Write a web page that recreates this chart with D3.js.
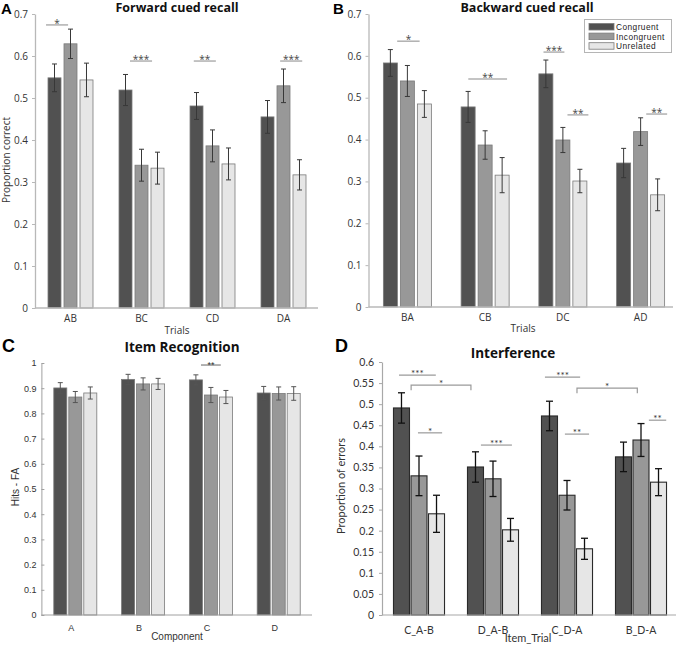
<!DOCTYPE html>
<html><head><meta charset="utf-8">
<script src="https://cdn.jsdelivr.net/npm/d3@7"></script>
<style>body{margin:0;background:#fff} svg{display:block}</style>
</head><body>
<svg id="c" width="680" height="645"></svg>
<script>
// ---------------- DATA ----------------
const seriesNames = ["Congruent", "Incongruent", "Unrelated"];

// A: Forward cued recall
const fwdTrials = ["AB", "BC", "CD", "DA"];
const fwdMeans = [[0.548, 0.519, 0.481, 0.455], [0.629, 0.340, 0.386, 0.529], [0.543, 0.333, 0.343, 0.317]];
const fwdErrs  = [[0.033, 0.037, 0.032, 0.039], [0.035, 0.038, 0.038, 0.040], [0.040, 0.038, 0.038, 0.036]];
const fwdTicks = [0, 0.1, 0.2, 0.3, 0.4, 0.5, 0.6, 0.7];
const fwdSig = [
  {g1: 0, f1: -0.01, g2: 0, f2: 0.45, y: 0.674, label: "*"},
  {g1: 1, f1: 0.26, g2: 1, f2: 0.72, y: 0.588, label: "***"},
  {g1: 2, f1: 0.11, g2: 2, f2: 0.57, y: 0.588, label: "**"},
  {g1: 3, f1: 0.43, g2: 3, f2: 0.89, y: 0.588, label: "***"}
];

// B: Backward cued recall
const bwdTrials = ["BA", "CB", "DC", "AD"];
const bwdMeans = [[0.583, 0.478, 0.557, 0.344], [0.540, 0.387, 0.399, 0.419], [0.485, 0.315, 0.301, 0.268]];
const bwdErrs  = [[0.032, 0.037, 0.033, 0.035], [0.037, 0.034, 0.030, 0.033], [0.032, 0.042, 0.028, 0.038]];
const bwdTicks = [0, 0.1, 0.2, 0.3, 0.4, 0.5, 0.6, 0.7];
const bwdSig = [
  {g1: 0, f1: 0.30, g2: 0, f2: 0.74, y: 0.635, label: "*"},
  {g1: 1, f1: 0.17, g2: 1, f2: 0.93, y: 0.545, label: "**"},
  {g1: 2, f1: 0.12, g2: 2, f2: 0.53, y: 0.609, label: "***"},
  {g1: 2, f1: 0.59, g2: 2, f2: 1.00, y: 0.459, label: "**"},
  {g1: 3, f1: 0.61, g2: 3, f2: 1.02, y: 0.461, label: "**"}
];

// C: Item Recognition
const recComponents = ["A", "B", "C", "D"];
const recMeans = [[0.901, 0.935, 0.933, 0.881], [0.865, 0.917, 0.873, 0.879], [0.881, 0.917, 0.865, 0.879]];
const recErrs  = [[0.021, 0.020, 0.020, 0.026], [0.022, 0.024, 0.030, 0.026], [0.024, 0.022, 0.026, 0.027]];
const recTicks = [0, 0.1, 0.2, 0.3, 0.4, 0.5, 0.6, 0.7, 0.8, 0.9, 1];
const recSig = [
  {g1: 2, f1: 0.28, g2: 2, f2: 0.72, y: 0.992, label: "**"}
];

// D: Interference
const intItems = ["C_A-B", "D_A-B", "C_D-A", "B_D-A"];
const intMeans = [[0.491, 0.351, 0.472, 0.375], [0.330, 0.323, 0.284, 0.415], [0.240, 0.202, 0.157, 0.315]];
const intErrs  = [[0.036, 0.036, 0.035, 0.035], [0.047, 0.042, 0.035, 0.039], [0.044, 0.027, 0.025, 0.032]];
const intTicks = [0, 0.05, 0.1, 0.15, 0.2, 0.25, 0.3, 0.35, 0.4, 0.45, 0.5, 0.55, 0.6];
const intSig = [
  {g1: 0, f1: 0.12, g2: 0, f2: 0.82, y: 0.569, label: "***"},
  {g1: 0, f1: 0.35, g2: 1, f2: 0.08, y: 0.545, label: "*", bracket: true},
  {g1: 0, f1: 0.48, g2: 0, f2: 0.94, y: 0.432, label: "*"},
  {g1: 1, f1: 0.27, g2: 1, f2: 0.86, y: 0.403, label: "***"},
  {g1: 2, f1: 0.08, g2: 2, f2: 0.75, y: 0.564, label: "***"},
  {g1: 2, f1: 0.69, g2: 3, f2: 0.43, y: 0.538, label: "*", bracket: true},
  {g1: 2, f1: 0.46, g2: 2, f2: 0.92, y: 0.429, label: "**"},
  {g1: 3, f1: 0.65, g2: 3, f2: 0.98, y: 0.462, label: "**"}
];

// ---------------- DRAWING ----------------
const svg = d3.select("#c");
const fills = {Congruent: "#515151", Incongruent: "#989898", Unrelated: "#e6e6e6"};

function drawPanel(o) {
  const g = svg.append("g").style("font-family", o.font);
  const x = d3.scaleBand().domain(o.cats).range(o.xr).paddingInner(o.pi).paddingOuter(o.pi / 2);
  const xi = d3.scaleBand().domain(seriesNames).range([0, x.bandwidth()]).paddingInner(o.pii).paddingOuter(o.pii / 2);
  const y = d3.scaleLinear().domain([0, o.ymax]).range(o.yr);
  const axisX = o.xr[0];

  // y axis
  const ya = g.append("g").attr("transform", `translate(${axisX},0)`)
    .call(d3.axisLeft(y).tickValues(o.ticks).tickFormat(d3.format("~g"))
      .tickSize(o.tickIn ? -3 : 3).tickSizeOuter(0).tickPadding(o.tickPad));
  ya.select(".domain").attr("stroke", o.axisColor).attr("stroke-width", o.axisW);
  ya.selectAll(".tick line").attr("stroke", o.axisColor);
  ya.selectAll(".tick text").attr("fill", o.textColor).style("font-size", o.tickFont + "px").style("font-family", o.font);

  // bars
  o.means.forEach((arr, si) => {
    const s = seriesNames[si];
    g.append("g").selectAll("rect").data(arr).join("rect")
      .attr("x", (d, i) => x(o.cats[i]) + xi(s))
      .attr("y", d => y(d))
      .attr("width", xi.bandwidth())
      .attr("height", d => y(0) - y(d))
      .attr("fill", fills[s])
      .attr("stroke", o.barStroke).attr("stroke-width", o.barStrokeW);
  });

  // x axis line
  g.append("line").attr("x1", axisX).attr("x2", o.xEnd).attr("y1", y(0)).attr("y2", y(0))
    .attr("stroke", o.axisColor).attr("stroke-width", o.axisW);
  const xa = g.append("g").attr("transform", `translate(0,${y(0)})`)
    .call(d3.axisBottom(x).tickSize(0).tickSizeOuter(0).tickPadding(o.catPad));
  xa.select(".domain").remove();
  xa.selectAll(".tick text").attr("fill", o.textColor).attr("dx", o.catDx || 0)
    .style("font-size", o.catFont + "px").style("font-family", o.font);

  // error bars
  o.means.forEach((arr, si) => {
    const s = seriesNames[si];
    const eg = g.append("g").attr("stroke", o.errColor).attr("stroke-width", o.errW).attr("fill", "none");
    arr.forEach((m, i) => {
      const e = o.errs[si][i];
      const cx = x(o.cats[i]) + xi(s) + xi.bandwidth() / 2;
      const y1 = y(m + e), y2 = y(m - e);
      eg.append("line").attr("x1", cx).attr("x2", cx).attr("y1", y1).attr("y2", y2);
      eg.append("line").attr("x1", cx - o.cap).attr("x2", cx + o.cap).attr("y1", y1).attr("y2", y1);
      eg.append("line").attr("x1", cx - o.cap).attr("x2", cx + o.cap).attr("y1", y2).attr("y2", y2);
    });
  });

  // significance marks
  o.sig.forEach(s => {
    const xa1 = x(o.cats[s.g1]) + s.f1 * x.bandwidth();
    const xa2 = x(o.cats[s.g2]) + s.f2 * x.bandwidth();
    const yy = y(s.y);
    if (s.bracket) {
      g.append("path").attr("d", `M${xa1},${yy + o.bracketLeg}V${yy}H${xa2}V${yy + o.bracketLeg}`)
        .attr("fill", "none").attr("stroke", o.sigColor).attr("stroke-width", o.sigW);
    } else {
      g.append("line").attr("x1", xa1).attr("x2", xa2).attr("y1", yy).attr("y2", yy)
        .attr("stroke", o.sigColor).attr("stroke-width", o.sigW);
    }
    g.append("text").attr("x", (xa1 + xa2) / 2).attr("y", yy + o.starDy)
      .attr("text-anchor", "middle").attr("fill", o.starColor)
      .style("font-size", o.starFont + "px").style("font-family", o.font).text(s.label);
  });

  // titles
  g.append("text").attr("x", o.title[0]).attr("y", o.title[1]).attr("text-anchor", "middle")
    .style("font-weight", "bold").style("font-size", o.titleFont + "px").style("font-family", o.titleFamily || o.font)
    .attr("fill", "#111").text(o.titleText);
  g.append("text").attr("x", o.letter[0]).attr("y", o.letter[1])
    .style("font-weight", "bold").style("font-size", o.letterFont + "px").style("font-family", "Liberation Sans, Arial, sans-serif")
    .attr("fill", "#000").text(o.letterText);
  if (o.xlabel) g.append("text").attr("x", o.xlabel[0]).attr("y", o.xlabel[1]).attr("text-anchor", "middle")
    .attr("fill", o.textColor).style("font-size", o.labelFont + "px").text(o.xlabelText);
  if (o.ylabel) g.append("text").attr("transform", `translate(${o.ylabel[0]},${o.ylabel[1]}) rotate(-90)`)
    .attr("text-anchor", "middle").attr("fill", o.textColor).style("font-size", o.labelFont + "px").text(o.ylabelText);
  return {g, x, y};
}

const base = {
  axisColor: "#b8b8b8", axisW: 1.3, textColor: "#333", tickPad: 4, tickFont: 10, catFont: 10, catPad: 7,
  barStroke: "#7a7a7a", barStrokeW: 0.8, errColor: "#383838", errW: 1, cap: 2.5,
  sigColor: "#b0b0b0", sigW: 1.5, starColor: "#444", starFont: 10, starDy: 2, bracketLeg: 5,
  font: "'Open Sans', sans-serif", titleFont: 12.5, letterFont: 15, labelFont: 10
};

drawPanel(Object.assign({}, base, {
  cats: fwdTrials, means: fwdMeans, errs: fwdErrs, ticks: fwdTicks, sig: fwdSig, ymax: 0.7,
  xr: [35, 319], xEnd: 318, yr: [308, 14], pi: 0.324, pii: 0.1875,
  title: [177, 12], titleText: "Forward cued recall", letter: [1, 14], letterText: "A",
  xlabel: [177, 334], xlabelText: "Trials", ylabel: [10, 160], ylabelText: "Proportion correct"
}));

drawPanel(Object.assign({}, base, {
  cats: bwdTrials, means: bwdMeans, errs: bwdErrs, ticks: bwdTicks, sig: bwdSig, ymax: 0.7,
  xr: [368.5, 679.5], xEnd: 673, yr: [307, 14], pi: 0.344, pii: 0.176,
  title: [527, 12], titleText: "Backward cued recall", letter: [333, 14], letterText: "B",
  xlabel: [523, 332], xlabelText: "Trials"
}));

drawPanel(Object.assign({}, base, {
  cats: recComponents, means: recMeans, errs: recErrs, ticks: recTicks, sig: recSig, ymax: 1,
  xr: [41.4, 312.6], xEnd: 312, yr: [615, 363], pi: 0.336, pii: 0.133,
  font: "'Liberation Sans', Arial, sans-serif", titleFamily: "'Open Sans', sans-serif",
  axisColor: "#a0a0a0", axisW: 1, tickIn: true, tickPad: 5, tickFont: 9, catFont: 9, catPad: 10, catDx: -4,
  errColor: "#555", cap: 2.5, sigColor: "#666", sigW: 1, starColor: "#333", starFont: 9, starDy: 2.5,
  title: [182, 352], titleText: "Item Recognition", titleFont: 13.5, letter: [2, 352], letterFont: 18, letterText: "C",
  xlabel: [177, 640], xlabelText: "Component", ylabel: [18.5, 487], ylabelText: "Hits - FA"
}));

drawPanel(Object.assign({}, base, {
  cats: intItems, means: intMeans, errs: intErrs, ticks: intTicks, sig: intSig, ymax: 0.6,
  xr: [382, 678], xEnd: 676, yr: [615, 362], pi: 0.29, pii: 0.086,
  font: "Lato, sans-serif", titleFamily: "'Open Sans', sans-serif",
  axisColor: "#a8a8a8", axisW: 1.2, tickPad: 5, tickFont: 10.5, catFont: 10.5, catPad: 12,
  barStroke: "#2a2a2a", barStrokeW: 1.1, errColor: "#111", errW: 1.3, cap: 3.5,
  sigColor: "#9a9a9a", sigW: 1.2, starColor: "#333", starFont: 10,
  title: [513, 358], titleText: "Interference", titleFont: 13.5, letter: [335, 352], letterFont: 18, letterText: "D",
  xlabel: [528, 642], xlabelText: "Item_Trial", ylabel: [345, 486], ylabelText: "Proportion of errors", labelFont: 11
}));

// legend in panel B
const lg = svg.append("g").style("font-family", "'Liberation Sans', Arial, sans-serif");
lg.append("rect").attr("x", 584.5).attr("y", 19.5).attr("width", 87).attr("height", 33)
  .attr("fill", "#fff").attr("stroke", "#b5b5b5").attr("stroke-width", 1);
seriesNames.forEach((s, i) => {
  lg.append("rect").attr("x", 589).attr("y", 23.5 + i * 9.6).attr("width", 25).attr("height", 6.5)
    .attr("fill", fills[s]).attr("stroke", "#7a7a7a").attr("stroke-width", 0.8);
  lg.append("text").attr("x", 616).attr("y", 30 + i * 9.6).attr("fill", "#222")
    .style("font-size", "8.3px").style("letter-spacing", "0.45px").text(s);
});
</script>
</body></html>
